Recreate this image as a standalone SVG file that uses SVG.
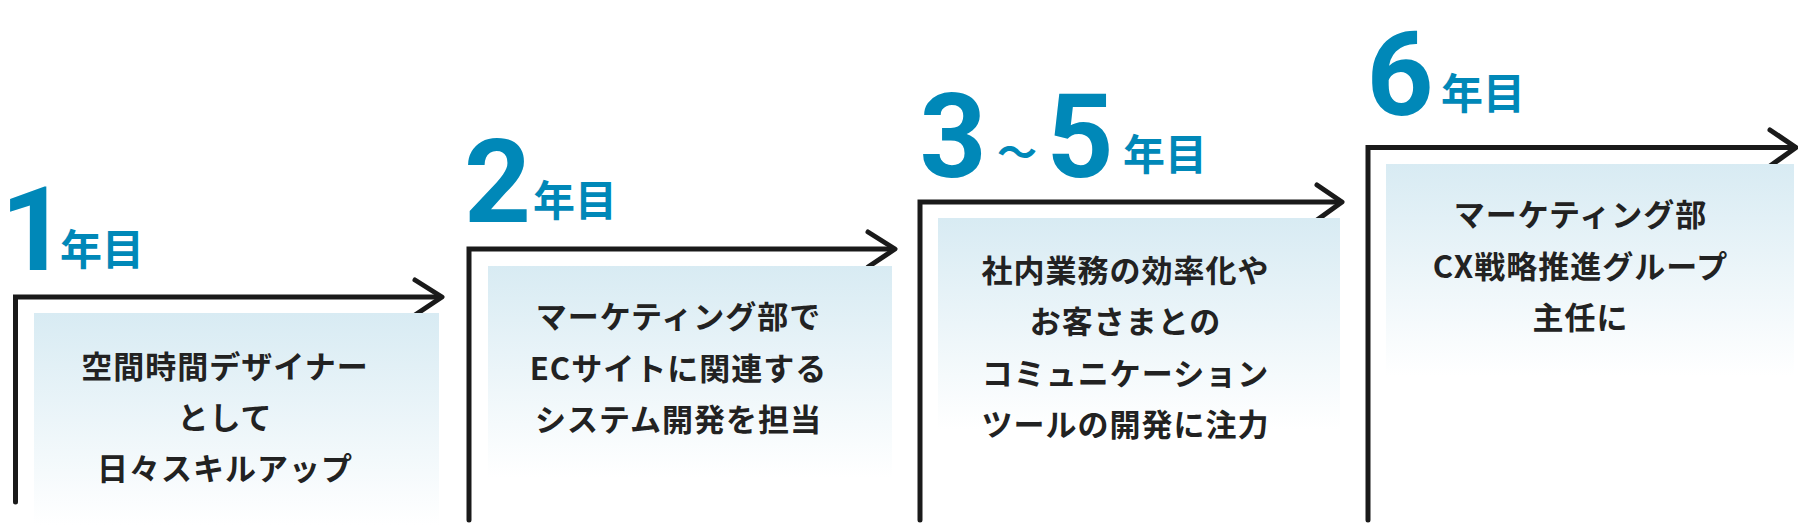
<svg xmlns="http://www.w3.org/2000/svg" width="1798" height="530" viewBox="0 0 1798 530">
  <defs>
    <linearGradient id="boxGrad" x1="0" y1="0" x2="0" y2="1">
      <stop offset="0" stop-color="#d8ebf3"/>
      <stop offset="1" stop-color="#ffffff"/>
    </linearGradient>
    <style>
      .box { fill: url(#boxGrad); }
      .num { font-family: Roboto, "Liberation Sans", sans-serif; font-weight: 700; font-size: 117px; fill: #0088b8; text-anchor: middle; }
      .nen { font-family: "Noto Sans CJK JP", "Noto Sans", sans-serif; font-weight: 700; font-size: 42px; fill: #0088b8; }
      .wave { font-family: "Noto Sans CJK JP", sans-serif; font-weight: 700; font-size: 40px; fill: #0088b8; text-anchor: middle; }
      .body { font-family: "Noto Sans CJK JP", "Noto Sans", sans-serif; font-weight: 700; font-size: 31px; letter-spacing: 1px; fill: #222222; text-anchor: middle; }
      .line { fill: none; stroke: #1a1a1a; stroke-width: 5; stroke-linejoin: miter; stroke-linecap: round; }
      .head { fill: none; stroke: #1a1a1a; stroke-width: 5; stroke-linejoin: round; stroke-linecap: round; }
    </style>
  </defs>

  <rect width="1798" height="530" fill="#ffffff"/>

  <g id="connectors">
    <path class="line" d="M15.5,502 V297 H440"/>
    <polyline class="head" points="415,280 442,297 415,315"/>
    <path class="line" d="M469,520 V249 H893"/>
    <polyline class="head" points="868,232 895,249 868,267"/>
    <path class="line" d="M920,520 V202 H1340"/>
    <polyline class="head" points="1317,185 1342,202 1317,220"/>
    <path class="line" d="M1368,520 V147.5 H1794"/>
    <polyline class="head" points="1770,130 1796,147.5 1770,166"/>
  </g>

  <g id="step1">
    <rect class="box" x="34" y="313" width="405" height="212"/>
    <text class="num" x="34" y="270">1</text>
    <text class="nen" x="60" y="265">年目</text>
    <text class="body" x="225" y="378">空間時間デザイナー</text>
    <text class="body" x="225" y="429">として</text>
    <text class="body" x="225" y="480">日々スキルアップ</text>
  </g>

  <g id="step2">
    <rect class="box" x="488" y="266" width="404" height="212"/>
    <text class="num" x="497.5" y="222">2</text>
    <text class="nen" x="533" y="216">年目</text>
    <text class="body" x="678.5" y="328">マーケティング部で</text>
    <text class="body" x="678.5" y="380">ECサイトに関連する</text>
    <text class="body" x="678.5" y="431">システム開発を担当</text>
  </g>

  <g id="step3">
    <rect class="box" x="938" y="218" width="402" height="212"/>
    <text class="num" x="953" y="177">3</text>
    <text class="wave" x="1017" y="167">〜</text>
    <text class="num" x="1080" y="177">5</text>
    <text class="nen" x="1123" y="170">年目</text>
    <text class="body" x="1125.5" y="282">社内業務の効率化や</text>
    <text class="body" x="1125.5" y="333">お客さまとの</text>
    <text class="body" x="1125.5" y="385">コミュニケーション</text>
    <text class="body" x="1125.5" y="436">ツールの開発に注力</text>
  </g>

  <g id="step4">
    <rect class="box" x="1386" y="164" width="408" height="212"/>
    <text class="num" x="1400" y="115">6</text>
    <text class="nen" x="1441" y="109">年目</text>
    <text class="body" x="1580.5" y="226">マーケティング部</text>
    <text class="body" x="1580.5" y="278">CX戦略推進グループ</text>
    <text class="body" x="1580.5" y="329">主任に</text>
  </g>
</svg>
